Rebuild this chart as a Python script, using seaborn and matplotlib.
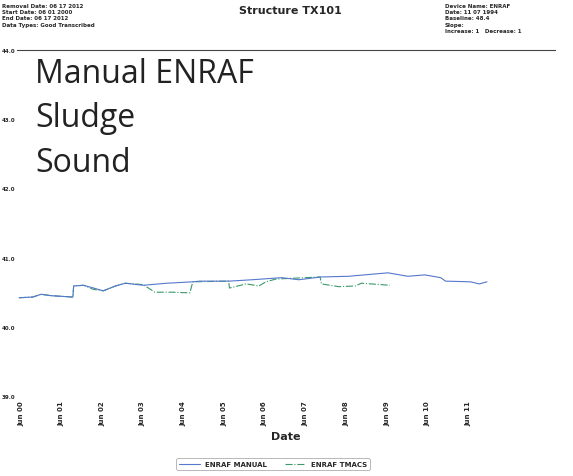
import pandas as pd
import matplotlib
matplotlib.use("Agg")
import matplotlib.pyplot as plt
import matplotlib.dates as mdates
import seaborn as sns

# Dados
manual_dates = ["2000-05-15", "2000-09-15", "2000-11-28", "2001-02-25", "2001-09-10",
                "2001-09-17", "2001-12-15", "2002-03-15", "2002-06-10", "2002-09-28",
                "2002-12-25", "2003-06-03", "2004-01-05", "2004-08-22", "2004-10-23",
                "2005-07-16", "2006-02-06", "2006-10-30", "2007-04-01", "2007-10-16",
                "2008-06-21", "2009-06-10", "2009-12-06", "2010-05-08", "2010-09-27",
                "2010-11-10", "2011-06-21", "2011-09-09", "2011-11-17"]
manual_level = [40.42, 40.43, 40.47, 40.45, 40.43, 40.59, 40.60, 40.56, 40.52, 40.59,
                40.63, 40.60, 40.63, 40.65, 40.66, 40.66, 40.68, 40.71, 40.68, 40.72,
                40.73, 40.78, 40.73, 40.75, 40.71, 40.66, 40.65, 40.62, 40.65]

tmacs_dates = ["2000-05-15", "2000-09-15", "2000-11-28", "2001-02-25", "2001-09-10",
               "2001-09-17", "2001-12-15", "2002-03-15", "2002-06-10", "2002-09-28",
               "2002-12-25", "2003-06-03", "2003-09-16", "2004-02-25", "2004-07-27",
               "2004-08-22", "2005-07-10", "2005-07-18", "2005-12-15", "2006-04-08",
               "2006-06-10", "2006-09-08", "2007-10-10", "2007-10-22", "2008-03-25",
               "2008-08-22", "2008-10-15", "2009-06-28"]
tmacs_level = [40.42, 40.43, 40.47, 40.45, 40.43, 40.59, 40.60, 40.54, 40.52, 40.59,
               40.63, 40.61, 40.50, 40.50, 40.49, 40.65, 40.66, 40.56, 40.62, 40.59,
               40.65, 40.69, 40.72, 40.62, 40.58, 40.59, 40.63, 40.60]

y_ticks = [39.0, 40.0, 41.0, 42.0, 43.0, 44.0]

df_manual = pd.DataFrame({"Date": pd.to_datetime(manual_dates), "level": manual_level})
df_tmacs = pd.DataFrame({"Date": pd.to_datetime(tmacs_dates), "level": tmacs_level})

sns.set_theme(style="white")
plt.rcParams['font.family'] = ['DejaVu Sans']

fig = plt.figure(figsize=(5.73, 4.77), dpi=100)
ax = fig.add_axes([17 / 573, 1 - 397 / 477, (555 - 17) / 573, (397 - 51) / 477])

sns.lineplot(data=df_tmacs, x="Date", y="level", ax=ax, color="#3a9a68",
             linewidth=0.8, linestyle="-.", estimator=None, label="ENRAF TMACS")
sns.lineplot(data=df_manual, x="Date", y="level", ax=ax, color="#5577cc",
             linewidth=0.8, estimator=None, label="ENRAF MANUAL")

ax.set_ylim(39, 44)
ax.set_xlim(pd.Timestamp("2000-04-26"), pd.Timestamp("2013-07-20"))
ax.set_yticks(y_ticks)
ax.set_yticklabels([f"{v:.1f}" for v in y_ticks], fontsize=4, fontweight="bold")
ax.xaxis.set_major_locator(mdates.MonthLocator(bymonth=6))
ax.xaxis.set_major_formatter(mdates.DateFormatter("%b %y"))
ax.set_xticks([t for t in ax.get_xticks() if t < mdates.date2num(pd.Timestamp("2012-01-01"))])
plt.setp(ax.get_xticklabels(), rotation=90, fontsize=5, fontweight="bold")
ax.tick_params(axis="x", length=0, pad=3)
ax.tick_params(axis="y", length=0, pad=1)
ax.set_xlabel("Date", fontsize=8, fontweight="bold", labelpad=4)
ax.set_ylabel("")

for s in ["left", "right", "bottom"]:
    ax.spines[s].set_visible(False)
ax.spines["top"].set_color("#444444")
ax.spines["top"].set_linewidth(0.8)

# Legenda na ordem do original
handles, labels = ax.get_legend_handles_labels()
leg = fig.legend(handles[::-1], labels[::-1], loc="center", ncol=2,
                 bbox_to_anchor=(273 / 573, 1 - 465 / 477), fontsize=5,
                 frameon=True, handlelength=3, columnspacing=2.5)
leg.get_frame().set_edgecolor("#999999")
leg.get_frame().set_linewidth(0.6)
for t in leg.get_texts():
    t.set_fontweight("bold")
ax.get_legend().remove()

fig.text(290 / 573, 1 - 11 / 477, "Structure TX101", ha="center", va="center",
         fontsize=8, fontweight="bold")
fig.text(2 / 573, 1 - 4 / 477, "Removal Date: 06 17 2012\nStart Date: 06 01 2000\nEnd Date: 06 17 2012\nData Types: Good Transcribed",
         ha="left", va="top", fontsize=4, fontweight="bold", linespacing=1.3)
fig.text(445 / 573, 1 - 4 / 477, "Device Name: ENRAF\nDate: 11 07 1994\nBaseline: 48.4\nSlope:\nIncrease: 1   Decrease: 1",
         ha="left", va="top", fontsize=4, fontweight="bold", linespacing=1.3)

fig.text(35 / 573, 1 - 58 / 477, "Manual ENRAF\nSludge\nSound", ha="left", va="top",
         fontsize=23, color="#222222", linespacing=1.45, family=["Open Sans"])

fig.savefig("out.png", dpi=100)
